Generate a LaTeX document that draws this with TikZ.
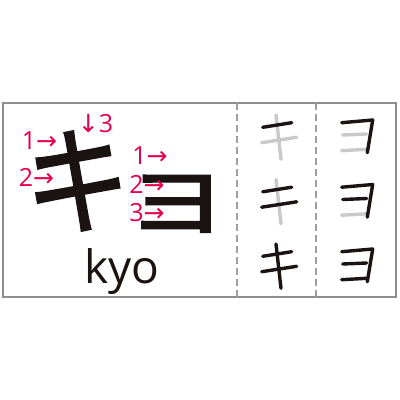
\documentclass[tikz,border=0pt]{standalone}
\usepackage{fontspec}
\setmainfont{Open Sans}
\newfontfamily\jpfont{Noto Sans CJK JP}[FakeBold=1.3]
\newfontfamily\arrowfont{DejaVu Sans}
\definecolor{KanaInk}{HTML}{1A1311}
\definecolor{KanaGhost}{HTML}{C9C9C9}
\definecolor{KanaFrame}{HTML}{8E8E8E}
\definecolor{KanaOrder}{HTML}{E4004F}
\newcommand{\ra}{{\arrowfont →}}
\newcommand{\da}{{\arrowfont ↓}}
\tikzset{
  ordermark/.style={text=KanaOrder,inner sep=0pt,anchor=base,font=\fontsize{25}{25}\selectfont},
  bigkana/.style={text=KanaInk,inner sep=0pt,font=\jpfont\fontsize{125}{125}\selectfont},
  brush/.style={line width=3.4pt,line cap=round,line join=round},
}

\begin{document}
\begin{tikzpicture}[x=1pt,y=-1pt]
      \useasboundingbox (0,0) rectangle (400,400);
      % frame and column rules
      \draw[KanaFrame,line width=2pt] (3,103) rectangle (396,297);
      \draw[KanaFrame!85,line width=2pt,dash pattern=on 6.5pt off 4.5pt] (236.7,103) -- (236.7,297);
      \draw[KanaFrame!85,line width=2pt,dash pattern=on 6.5pt off 4.5pt] (316,103) -- (316,297);
      % big kana and reading
      \node[bigkana,xscale=0.85,yscale=0.96] (kiBig) at (77.5,181) {キ};
      \node[bigkana,xscale=0.97,yscale=0.76] (yoBig) at (177,203.7) {ョ};
      \node[text=KanaInk,inner sep=0pt,anchor=base,font=\fontsize{46}{46}\selectfont] (kyo) at (122,283) {kyo};
      % stroke order marks
      \node[ordermark] (kiOne) at (39.5,149.5) {1\ra};
      \node[ordermark] (kiTwo) at (36.5,186) {2\ra};
      \node[ordermark] (kiThree) at (95.5,132.7) {\da3};
      \node[ordermark] (yoOne) at (150,164) {1\ra};
      \node[ordermark] (yoTwo) at (147,193.3) {2\ra};
      \node[ordermark] (yoThree) at (147,221) {3\ra};
      % step by step strokes
      \foreach \r/\yc in {1/137,2/201.5,3/266}{
        \ifnum\r>1 \def\cb{KanaInk}\else\def\cb{KanaGhost}\fi
        \ifnum\r>2 \def\cc{KanaInk}\else\def\cc{KanaGhost}\fi
        \begin{scope}[shift={(278,\yc)}]
          \draw[brush,draw=\cc] (-2,-22) -- (3,22.3);
          \draw[brush,draw=\cb] (-16.3,5.7) -- (18.7,0.3);
          \draw[brush,draw=KanaInk] (-15.3,-9.7) -- (13.7,-14.3);
        \end{scope}
        \begin{scope}[shift={(358,\yc)}]
          \draw[brush,draw=\cc] (-16.3,13.7) -- (8.7,12.3);
          \draw[brush,draw=\cb] (-15.3,-2) -- (8.7,-3);
          \draw[brush,draw=KanaInk] (-16.3,-14.3) -- (14.7,-17) -- (9.3,15.7);
        \end{scope}
      }
    \end{tikzpicture}
\end{document}
